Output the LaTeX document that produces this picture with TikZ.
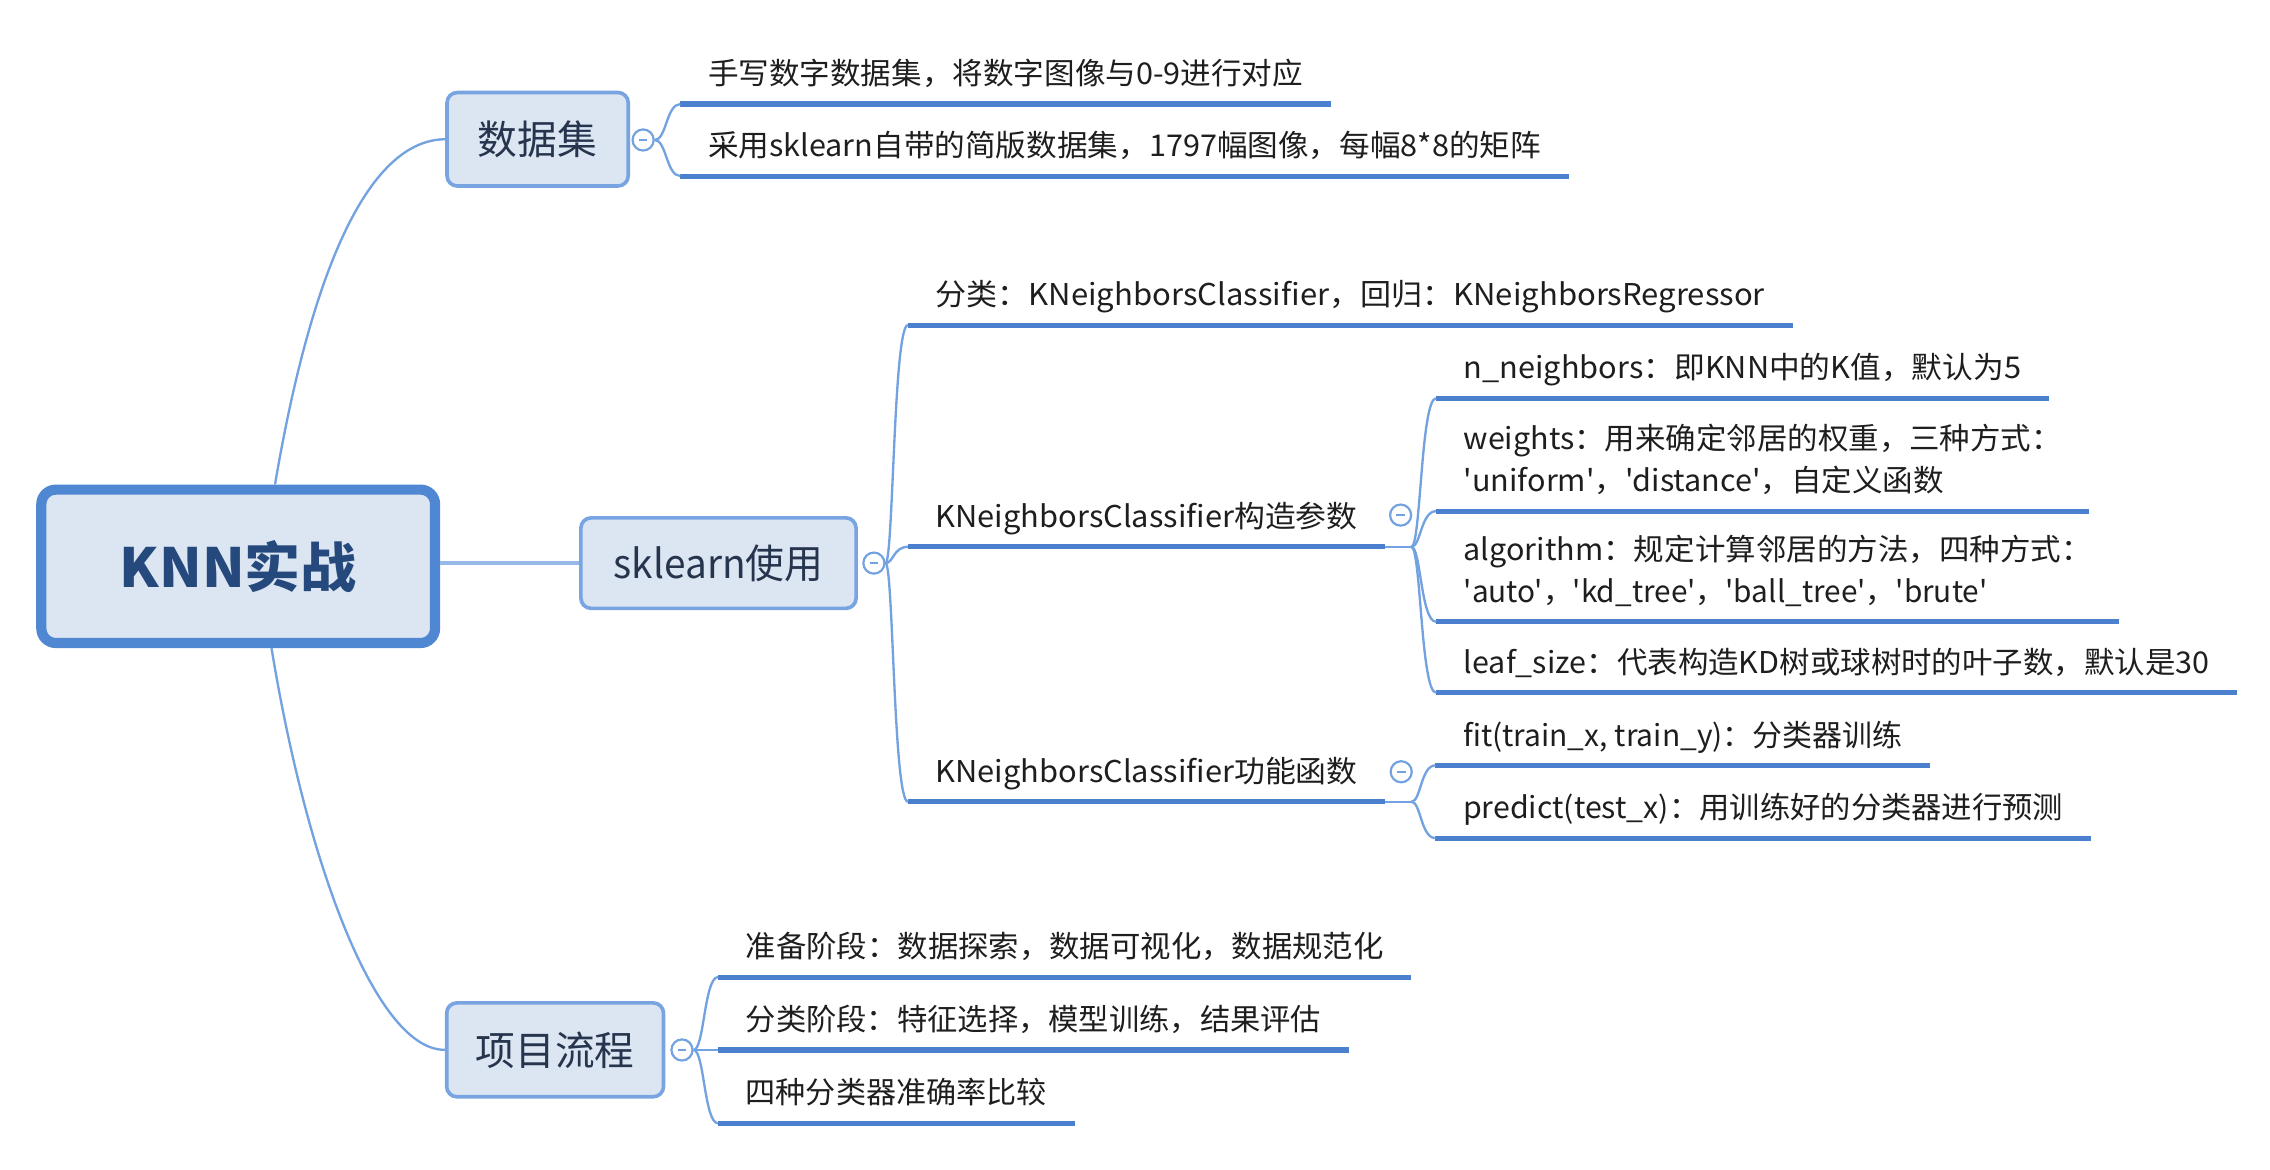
\documentclass[tikz,border=0pt]{standalone}
\usepackage{fontspec}
\usepackage{graphicx}
\newfontfamily\cjk{Noto Sans CJK SC}
\usetikzlibrary{calc}
\newlength\PX
\setlength\PX{1.455pt}
\newsavebox\fitbox
\newcommand\fitw[2]{\sbox\fitbox{#2}\pgfmathsetmacro\fitfac{#1*1.455/\the\wd\fitbox}\scalebox{\fitfac}[1]{\usebox\fitbox}}
\definecolor{boxfill}{RGB}{220,230,242}
\definecolor{knnline}{RGB}{79,135,210}
\definecolor{boxline}{RGB}{120,165,225}
\definecolor{ulc}{RGB}{74,128,205}
\definecolor{connc}{RGB}{115,162,225}
\definecolor{trunkc}{RGB}{150,185,232}
\definecolor{txt}{RGB}{30,30,30}
\definecolor{lonetxt}{RGB}{38,52,78}
\definecolor{knntxt}{RGB}{37,73,125}
\tikzset{
  knnbox/.style={draw=knnline, line width=7\PX, fill=boxfill, rounded corners=10\PX, inner sep=0pt, text=knntxt, font=\cjk\bfseries\fontsize{54}{60}\selectfont},
  lonebox/.style={draw=boxline, line width=2.5\PX, fill=boxfill, rounded corners=7\PX, inner sep=0pt, text=lonetxt, font=\cjk\fontsize{40}{46}\selectfont},
  item/.style={anchor=south west, inner xsep=19\PX, inner ysep=0pt, outer sep=0pt, text depth=13.3\PX, text=txt, font=\cjk\fontsize{30}{42}\selectfont},
  uline/.style={draw=ulc, line width=3.5\PX, line cap=butt},
  conn/.style={draw=connc, line width=1.6\PX},
  trunk/.style={draw=trunkc, line width=3\PX},
  fold/.style={circle, draw=connc, line width=1.5\PX, fill=white, minimum size=14.5\PX, inner sep=0pt},
  foldbar/.style={draw=connc, line width=1.2\PX},
}
\begin{document}
\begin{tikzpicture}[x=1.455pt,y=-1.455pt]
\path[fill=white, use as bounding box] (0,0) rectangle (1560.1,804.1);

% main nodes
\node[knnbox, minimum width=270.6\PX, minimum height=105.4\PX] (knn) at (163.7,389.2) {\fitw{163}{KNN实战}};
\node[lonebox, minimum width=124.5\PX, minimum height=64.2\PX] (ds) at (369.5,95.7) {\fitw{82}{数据集}};
\node[lonebox, minimum width=189.1\PX, minimum height=62.2\PX] (sk) at (493.8,387) {\fitw{144}{sklearn使用}};
\node[lonebox, minimum width=149\PX, minimum height=64.5\PX] (pj) at (381.5,721.5) {\fitw{109}{项目流程}};

% fold markers
\node[fold] (dsf) at (442,96.2) {};
\node[fold] (skf) at (600.6,387) {};
\node[fold] (pjf) at (468.7,721.6) {};
\node[fold] (paf) at (962.6,354) {};
\node[fold] (fnf) at (963,530.4) {};
\foreach \f in {dsf,skf,pjf,paf,fnf}
  \draw[foldbar] ([xshift=-3\PX]\f.center) -- ([xshift=3\PX]\f.center);

% items
\node[item] (i1) at (467.6,71.5) {\fitw{409}{手写数字数据集，将数字图像与0-9进行对应}};
\node[item] (i2) at (467.6,121) {\fitw{572.4}{采用sklearn自带的简版数据集，1797幅图像，每幅8*8的矩阵}};
\node[item] (i3) at (624,223.4) {\fitw{570}{分类：KNeighborsClassifier，回归：KNeighborsRegressor}};
\node[item] (i4) at (624,375.8) {\fitw{290}{KNeighborsClassifier构造参数}};
\node[item] (i5) at (624,551) {\fitw{290}{KNeighborsClassifier功能函数}};
\node[item] (i6) at (987,273.7) {\fitw{383}{n\_neighbors：即KNN中的K值，默认为5}};
\node[item] (i7) at (987,351.3) {\begin{tabular}[b]{@{}l@{}}\fitw{411}{weights：用来确定邻居的权重，三种方式：}\\\fitw{330}{'uniform'，'distance'，自定义函数}\end{tabular}};
\node[item] (i8) at (987,427.3) {\begin{tabular}[b]{@{}l@{}}\fitw{431.6}{algorithm：规定计算邻居的方法，四种方式：}\\\fitw{360}{'auto'，'kd\_tree'，'ball\_tree'，'brute'}\end{tabular}};
\node[item] (i9) at (987,476.1) {\fitw{512.5}{leaf\_size：代表构造KD树或球树时的叶子数，默认是30}};
\node[item] (i10) at (986.5,526) {\fitw{302}{fit(train\_x, train\_y)：分类器训练}};
\node[item] (i11) at (986.5,576) {\fitw{412.5}{predict(test\_x)：用训练好的分类器进行预测}};
\node[item] (i12) at (493.5,671.5) {\fitw{438.5}{准备阶段：数据探索，数据可视化，数据规范化}};
\node[item] (i13) at (493.5,721.6) {\fitw{395.5}{分类阶段：特征选择，模型训练，结果评估}};
\node[item] (i14) at (493.5,772) {\fitw{207}{四种分类器准确率比较}};

\foreach \n in {i1,i2,i3,i4,i5,i6,i7,i8,i9,i10,i11,i12,i13,i14}
  \draw[uline] (\n.south west) -- (\n.south east);

% connectors from the centre
\draw[conn] ([xshift=25.3\PX]knn.north) .. controls (215,180) and (255,96) .. (ds.west);
\draw[conn] ([xshift=22.9\PX]knn.south) .. controls (212,600) and (260,722) .. (pj.west);
\draw[trunk] (knn.east |- sk.west) -- (sk.west);

% helper coordinates
\coordinate (dsv) at (458,96.2);
\coordinate (skv) at (614,387);
\coordinate (pjv) at (484,721.6);
\coordinate (paj) at (970,375.8);
\coordinate (pav) at (976.5,375.8);
\coordinate (fnj) at (970,551);
\coordinate (fnv) at (976.5,551);

\foreach \n in {i1,i2}
  \draw[conn] (dsf.east) .. controls (dsv) and (dsv |- \n.south west) .. (\n.south west);
\foreach \n in {i3,i4,i5}
  \draw[conn] (skf.east) .. controls (skv) and (skv |- \n.south west) .. (\n.south west);
\foreach \n in {i12,i13,i14}
  \draw[conn] (pjf.east) .. controls (pjv) and (pjv |- \n.south west) .. (\n.south west);

\draw[conn] (i4.south east) -- (paj);
\foreach \n in {i6,i7,i8,i9}
  \draw[conn] (paj) .. controls (pav) and (pav |- \n.south west) .. (\n.south west);
\draw[conn] (i5.south east) -- (fnj);
\foreach \n in {i10,i11}
  \draw[conn] (fnj) .. controls (fnv) and (fnv |- \n.south west) .. (\n.south west);
\end{tikzpicture}
\end{document}
